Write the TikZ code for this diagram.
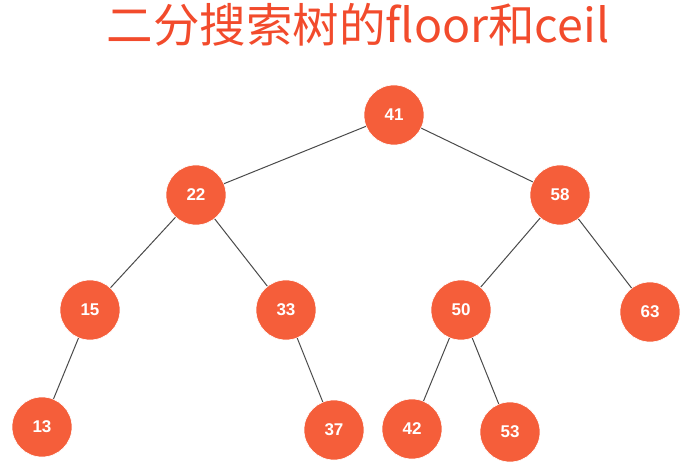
\documentclass[tikz,border=0pt]{standalone}
\usepackage{fontspec}
\usepackage{xcolor}
\usepackage{tikz}
\newfontfamily\cjk{Noto Sans CJK SC}
\newfontfamily\numfont{Liberation Sans}
\definecolor{tomato}{HTML}{F55E3A}
\definecolor{titlered}{HTML}{F24B2C}
\definecolor{edgegray}{HTML}{4A4A4A}

\begin{document}
\begin{tikzpicture}[x=1pt,y=-1pt,
  key/.style={circle,fill=tomato,draw=white,line width=0.6pt,minimum size=60pt,inner sep=0pt,text=white,font=\numfont\bfseries\fontsize{17}{17}\selectfont},
  link/.style={draw=edgegray,line width=1pt}]
\useasboundingbox (0,0) rectangle (689,468);
\node[text=titlered,font=\cjk\fontsize{46.5}{46.5}\selectfont] (title) at (358,25) {二分搜索树的floor和ceil};
\node[key] (n41) at (394,115) {41};
\node[key] (n22) at (196,195) {22};
\node[key] (n58) at (560,195) {58};
\node[key] (n15) at (90,310) {15};
\node[key] (n33) at (286,310) {33};
\node[key] (n50) at (461,310) {50};
\node[key] (n63) at (650,312) {63};
\node[key] (n13) at (42,427) {13};
\node[key] (n37) at (334,430) {37};
\node[key] (n42) at (412,429) {42};
\node[key] (n53) at (510,432) {53};
\draw[link] (n41)--(n22);
\draw[link] (n41)--(n58);
\draw[link] (n22)--(n15);
\draw[link] (n22)--(n33);
\draw[link] (n58)--(n50);
\draw[link] (n58)--(n63);
\draw[link] (n15)--(n13);
\draw[link] (n33)--(n37);
\draw[link] (n50)--(n42);
\draw[link] (n50)--(n53);
\end{tikzpicture}
\end{document}
